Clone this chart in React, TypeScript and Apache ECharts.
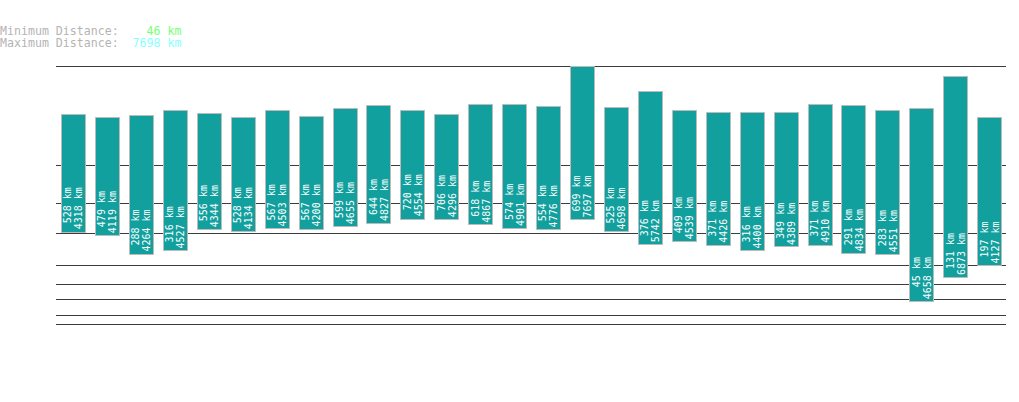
import React, { useEffect, useRef } from "react";
import * as echarts from "echarts";

const categories = ["1","2","3","4","5","6","7","8","9","10","11","12","13","14","15","16","17","18","19","20","21","22","23","24","25","26","27","28"];
const minDistances = [528,479,288,316,556,528,567,567,599,644,720,706,618,574,554,699,525,376,409,371,316,349,371,291,283,45,131,197];
const maxDistances = [4318,4119,4264,4527,4344,4134,4503,4200,4655,4827,4554,4296,4867,4901,4776,7697,4698,5742,4539,4426,4400,4389,4910,4834,4551,4658,6873,4127];
const gridValues = [10,20,50,100,200,500,1000,2000,7698];
const summaryMin = "46 km";
const summaryMax = "7698 km";
const axisMax = 7698;
const EXP = 0.3;

const f = (v: number) => Math.pow(v, EXP);

export default function App() {
  const ref = useRef<HTMLDivElement>(null);
  useEffect(() => {
    if (!ref.current) return;
    const chart = echarts.init(ref.current, null, { renderer: "svg" });
    const mono = "DejaVu Sans Mono, monospace";
    const data = categories.map((c, i) => [i, f(minDistances[i]), f(maxDistances[i]), minDistances[i], maxDistances[i]]);
    chart.setOption({
      animation: false,
      backgroundColor: "#ffffff",
      grid: { left: 56, right: 13, top: 66, bottom: 37 },
      xAxis: {
        type: "category",
        data: categories,
        show: false,
      },
      yAxis: {
        type: "value",
        min: 0,
        max: f(axisMax),
        show: false,
        splitLine: { show: false },
      },
      graphic: [
        {
          type: "text",
          left: 0,
          top: 25,
          style: {
            text: "Minimum Distance:    {g|" + summaryMin + "}",
            font: "11.6px " + mono,
            fill: "#b4b4b4",
            rich: { g: { fill: "#77ff77", font: "11.6px " + mono } },
          },
        },
        {
          type: "text",
          left: 0,
          top: 37,
          style: {
            text: "Maximum Distance:  {c|" + summaryMax + "}",
            font: "11.6px " + mono,
            fill: "#b4b4b4",
            rich: { c: { fill: "#88ffff", font: "11.6px " + mono } },
          },
        },
      ],
      series: [
        {
          type: "line",
          data: [],
          z: 1,
          silent: true,
          markLine: {
            z: 1,
            silent: true,
            symbol: "none",
            label: { show: false },
            lineStyle: { color: "#3c3c3c", width: 1, type: "solid" },
            data: gridValues.map((v) => ({ yAxis: f(v) })),
          },
        },
        {
          type: "custom",
          z: 10,
          data,
          encode: { x: 0, y: [1, 2] },
          renderItem: (params: any, api: any) => {
            const idx = api.value(0);
            const lo = api.value(1);
            const hi = api.value(2);
            const mn = api.value(3);
            const mx = api.value(4);
            const top = api.coord([idx, hi]);
            const bot = api.coord([idx, lo]);
            const w = api.size([1, 0])[0] * 0.7;
            const cx = top[0];
            return {
              type: "group",
              children: [
                {
                  type: "rect",
                  shape: { x: Math.round(cx - w / 2) + 0.5, y: Math.round(top[1]) + 0.5, width: Math.round(w), height: Math.round(bot[1] - top[1]) },
                  style: { fill: "#11a09e", stroke: "#bbbbbb", lineWidth: 1 },
                },
                {
                  type: "text",
                  x: cx + 0.5,
                  y: bot[1] - 44,
                  rotation: Math.PI / 2,
                  style: {
                    text: mn + " km\n" + mx + " km",
                    fill: "#ffffff",
                    font: "10px " + mono,
                    align: "right",
                    verticalAlign: "middle",
                    lineHeight: 11,
                  },
                },
              ],
            };
          },
        },
      ],
    });
    return () => chart.dispose();
  }, []);
  return (
    <div
      ref={ref}
      style={{ position: "absolute", left: 0, top: 0, width: 1019, height: 402 }}
    />
  );
}
